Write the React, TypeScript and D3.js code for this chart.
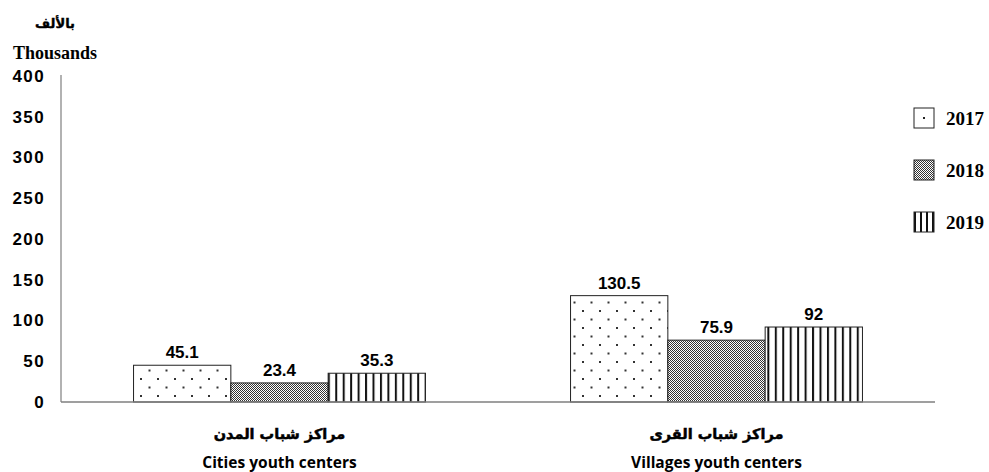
import React from "react";
import * as d3 from "d3";

const categoriesAr = ["مراكز شباب المدن", "مراكز شباب القرى"];
const categoriesEn = ["Cities youth centers", "Villages youth centers"];
const years = ["2017", "2018", "2019"];
const values2017 = [45.1, 130.5];
const values2018 = [23.4, 75.9];
const values2019 = [35.3, 92];
const yTicks = [0, 50, 100, 150, 200, 250, 300, 350, 400];

const W = 989;
const H = 472;

export default function App() {
  const series = [values2017, values2018, values2019];
  const x0 = d3.scaleBand<number>().domain([0, 1]).range([61, 935]).paddingInner(0.332).paddingOuter(0.166);
  const x1 = d3.scaleBand<string>().domain(years).range([0, x0.bandwidth()]);
  const y = d3.scaleLinear().domain([0, 400]).range([402, 76]);
  const fills = ["url(#pDots)", "url(#pCheck)", "url(#pStripes)"];
  const legendFills = ["url(#pDotsL)", "url(#pCheck)", "url(#pStripesL)"];

  return (
    <svg width={W} height={H} style={{ position: "absolute", left: 0, top: 0 }}>
      <defs>
        <pattern id="pDots" patternUnits="userSpaceOnUse" width="17" height="17" x="0" y="0">
          <rect width="17" height="17" fill="#fff" />
          <rect x="4" y="4" width="2" height="2" fill="#333" />
          <rect x="12.5" y="12.5" width="2" height="2" fill="#333" />
        </pattern>
        <pattern id="pDotsL" patternUnits="userSpaceOnUse" width="20" height="20" x="914" y="108">
          <rect width="20" height="20" fill="#fff" />
          <rect x="9" y="9" width="2" height="2" fill="#222" />
        </pattern>
        <pattern id="pCheck" patternUnits="userSpaceOnUse" width="2" height="2">
          <rect width="2" height="2" fill="#fff" />
          <rect width="1" height="1" fill="#333" />
          <rect x="1" y="1" width="1" height="1" fill="#333" />
        </pattern>
        <pattern id="pStripes" patternUnits="userSpaceOnUse" width="7.45" height="10" x="0">
          <rect width="7.45" height="10" fill="#fff" />
          <rect x="0" width="2" height="10" fill="#111" />
        </pattern>
        <pattern id="pStripesL" patternUnits="userSpaceOnUse" width="6" height="10" x="914">
          <rect width="6" height="10" fill="#fff" />
          <rect x="0" width="2" height="10" fill="#111" />
        </pattern>
      </defs>

      <text x={55} y={28} textAnchor="middle" fontFamily="DejaVu Sans" fontWeight="bold" fontSize={13} stroke="#000" strokeWidth={0.4} direction="rtl">بالألف</text>
      <text x={55} y={59} textAnchor="middle" fontFamily="Liberation Serif" fontWeight="bold" fontSize={18}>Thousands</text>

      {yTicks.map((t) => (
        <text key={t} x={45} y={y(t)} dy="0.35em" textAnchor="end" fontFamily="Liberation Sans" fontWeight="bold" fontSize={17} letterSpacing={1.4} fill="#000">
          {t}
        </text>
      ))}

      {[0, 1].map((ci) =>
        years.map((yr, si) => {
          const v = series[si][ci];
          const bx = (x0(ci) as number) + (x1(yr) as number);
          const bw = x1.bandwidth();
          return (
            <g key={ci + "-" + yr}>
              <rect x={bx} y={y(v)} width={bw} height={y(0) - y(v)} fill={fills[si]} stroke="#222" strokeWidth={1} />
              <text x={bx + bw / 2} y={y(v) - 7} textAnchor="middle" fontFamily="Liberation Sans" fontWeight="bold" fontSize={17} fill="#000">
                {v}
              </text>
            </g>
          );
        })
      )}

      <line x1={61} y1={75} x2={61} y2={402} stroke="#7f7f7f" strokeWidth={1.2} />
      <line x1={61} y1={402} x2={935} y2={402} stroke="#7f7f7f" strokeWidth={1.5} />

      {[0, 1].map((ci) => {
        const cx = (x0(ci) as number) + x0.bandwidth() / 2;
        return (
          <g key={"c" + ci}>
            <text x={cx} y={439} textAnchor="middle" fontFamily="DejaVu Sans" fontWeight="bold" fontSize={14.5} stroke="#000" strokeWidth={0.5} direction="rtl">
              {categoriesAr[ci]}
            </text>
            <text x={cx} y={468} textAnchor="middle" fontFamily="Open Sans" fontWeight="bold" fontSize={15.5}>
              {categoriesEn[ci]}
            </text>
          </g>
        );
      })}

      {years.map((yr, i) => {
        const ly = 118 + i * 52;
        return (
          <g key={"l" + yr}>
            <rect x={914} y={ly - 10} width={20} height={20} fill={legendFills[i]} stroke="#222" strokeWidth={1} />
            <text x={946} y={ly} dy="0.35em" fontFamily="Liberation Serif" fontWeight="bold" fontSize={19}>
              {yr}
            </text>
          </g>
        );
      })}
    </svg>
  );
}
